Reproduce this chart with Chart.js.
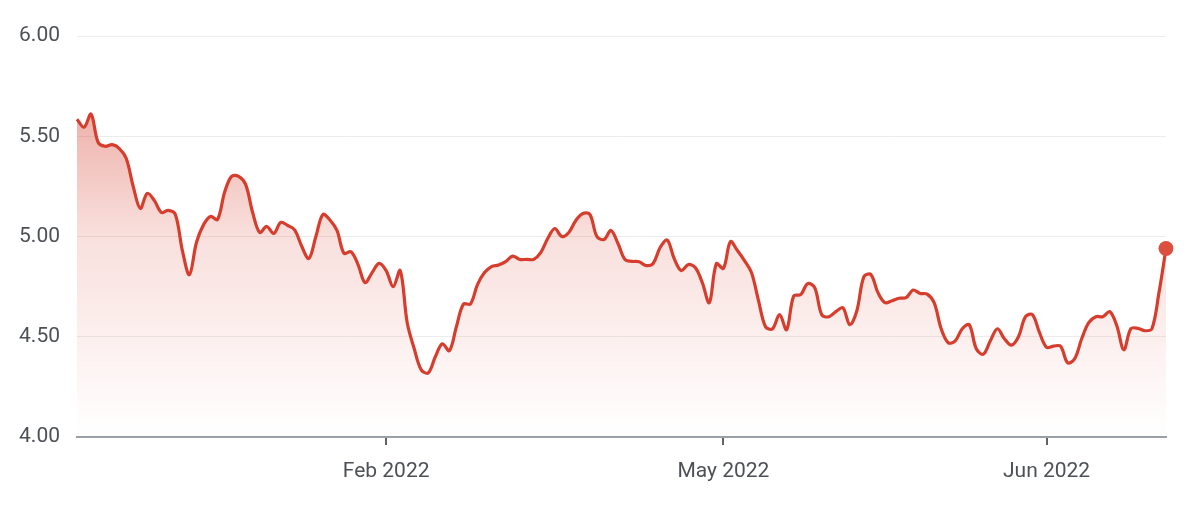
<!DOCTYPE html>
<html>
<head>
<meta charset="utf-8">
<script src="https://cdn.jsdelivr.net/npm/chart.js@4/dist/chart.umd.min.js"></script>
<style>
  html, body { margin: 0; padding: 0; background: #fff; }
  #wrap { width: 1200px; height: 506px; }
</style>
</head>
<body>
<div id="wrap"><canvas id="chart"></canvas></div>
<script>
// Price series, one value per trading session
const prices = [
  5.585, 5.545, 5.61, 5.47, 5.45, 5.458, 5.44, 5.39, 5.25, 5.14,
  5.215, 5.18, 5.12, 5.13, 5.11, 4.93, 4.81, 4.97, 5.058, 5.10,
  5.085, 5.22, 5.30, 5.30, 5.26, 5.12, 5.02, 5.05, 5.015, 5.07,
  5.055, 5.032, 4.95, 4.89, 5.00, 5.11, 5.082, 5.03, 4.916, 4.924,
  4.86, 4.77, 4.82, 4.866, 4.83, 4.75, 4.83, 4.57, 4.44, 4.335,
  4.32, 4.40, 4.465, 4.43, 4.55, 4.663, 4.663, 4.76, 4.82, 4.85,
  4.858, 4.875, 4.902, 4.886, 4.886, 4.886, 4.92, 4.99, 5.04, 5.00,
  5.02, 5.08, 5.115, 5.11, 5.00, 4.985, 5.03, 4.965, 4.885, 4.876,
  4.874, 4.855, 4.865, 4.945, 4.982, 4.89, 4.83, 4.86, 4.845, 4.77,
  4.67, 4.865, 4.841, 4.974, 4.93, 4.88, 4.82, 4.68, 4.55, 4.54,
  4.61, 4.535, 4.703, 4.71, 4.765, 4.745, 4.61, 4.60, 4.625, 4.645,
  4.56, 4.63, 4.80, 4.81, 4.72, 4.67, 4.68, 4.692, 4.695, 4.733,
  4.716, 4.713, 4.67, 4.54, 4.47, 4.48, 4.54, 4.56, 4.44, 4.413,
  4.48, 4.54, 4.49, 4.458, 4.50, 4.60, 4.61, 4.52, 4.447, 4.453,
  4.453, 4.37, 4.39, 4.49, 4.57, 4.60, 4.60, 4.625, 4.555, 4.435,
  4.54, 4.542, 4.53, 4.54, 4.72, 4.94
];

// Month labels and the session they sit on
const tickIndex = [44, 92, 138];
const tickText = ['Feb 2022', 'May 2022', 'Jun 2022'];

const Y_MIN = 4, Y_MAX = 6, Y_STEP = 0.5;

const RED = '#d63d2c';
const TEXT = '#4d5156';
const FONT = { family: "Roboto, 'Noto Sans', sans-serif", size: 21 };

const labels = prices.map((_, i) => i);
const last = prices.length - 1;

function areaGradient(ctx) {
  const area = ctx.chart.chartArea;
  if (!area) return 'rgba(217,65,47,0.2)';
  const g = ctx.chart.ctx.createLinearGradient(0, area.top, 0, area.bottom);
  g.addColorStop(0, 'rgba(214,61,44,0.55)');
  g.addColorStop(0.5, 'rgba(214,61,44,0.16)');
  g.addColorStop(1, 'rgba(214,61,44,0)');
  return g;
}

new Chart(document.getElementById('chart'), {
  type: 'line',
  data: {
    labels,
    datasets: [{
      data: prices,
      borderColor: RED,
      borderWidth: 3.2,
      backgroundColor: areaGradient,
      fill: 'start',
      tension: 0.35,
      pointRadius: c => (c.dataIndex === last ? 7.5 : 0),
      pointBackgroundColor: '#dc4e3e',
      pointBorderWidth: 0,
      pointHoverRadius: 0,
    }],
  },
  options: {
    responsive: true,
    maintainAspectRatio: false,
    animation: false,
    layout: { padding: { top: 36, right: 34, left: 0, bottom: 0 } },
    plugins: { legend: { display: false }, tooltip: { enabled: false } },
    scales: {
      x: {
        type: 'category',
        afterFit: s => { s.height = 69; },
        grid: {
          drawOnChartArea: false,
          drawTicks: true,
          tickLength: 8,
          color: '#5f6368',
          lineWidth: 2,
        },
        border: { display: true, color: '#9aa0a6', width: 2 },
        ticks: {
          autoSkip: false,
          maxRotation: 0,
          padding: 14,
          color: TEXT,
          font: FONT,
          callback: (v, i) => {
            const k = tickIndex.indexOf(i);
            return k < 0 ? null : tickText[k];
          },
        },
      },
      y: {
        min: Y_MIN,
        max: Y_MAX,
        afterFit: s => { s.width = 77; },
        grid: { color: '#ececec', lineWidth: 1, drawTicks: false },
        border: { display: false },
        ticks: {
          stepSize: Y_STEP,
          padding: 17,
          color: TEXT,
          font: FONT,
          callback: v => v.toFixed(2),
        },
      },
    },
  },
});
</script>
</body>
</html>
